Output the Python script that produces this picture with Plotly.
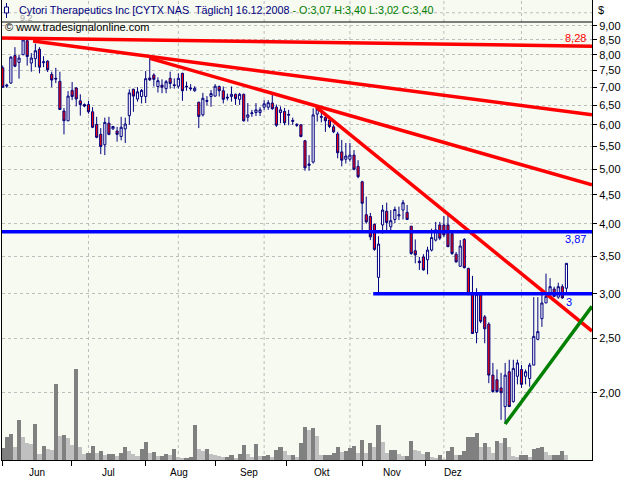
import math
import plotly.graph_objects as go

# ---------------- data ----------------
open_ = [7.58, 7.03, 7.12, 7.97, 7.75, 8.00, 8.47, 7.73, 7.87, 8.18,
         7.74, 7.79, 7.38, 7.26, 7.17, 6.35, 6.10, 6.91, 6.98, 6.62,
         6.52, 6.52, 6.33, 6.01, 5.77, 5.53, 6.04, 5.90, 5.85, 5.72,
         5.90, 6.23, 6.94, 6.67, 6.74, 6.74, 7.27, 7.36, 7.02, 7.06,
         6.96, 7.26, 7.07, 7.03, 7.41, 7.03, 6.98, 6.90, 6.58, 6.25,
         6.63, 6.74, 6.75, 7.02, 6.90, 6.72, 6.74, 6.80, 6.66, 6.80,
         6.19, 6.28, 6.31, 6.31, 6.45, 6.45, 6.56, 6.45, 6.31, 6.34,
         6.24, 6.11, 6.01, 6.00, 5.62, 5.08, 5.15, 6.27, 6.21, 6.18,
         6.12, 5.95, 5.78, 5.37, 5.21, 5.21, 5.30, 5.06, 4.75, 4.15,
         4.12, 3.99, 3.21, 3.98, 4.21, 3.95, 4.07, 4.13, 4.23, 4.19,
         3.96, 3.58, 3.43, 3.49, 3.45, 3.59, 3.74, 3.98, 3.98, 3.98,
         3.84, 3.53, 3.36, 3.75, 3.33, 2.99, 2.56, 2.99, 2.73, 2.65,
         2.15, 2.11, 2.04, 1.89, 2.18, 1.93, 2.14, 2.20, 2.14, 2.12,
         2.24, 2.49, 2.71, 2.89, 3.01, 3.06, 2.96, 3.09, 3.07]
high = [7.65, 7.10, 7.95, 8.25, 8.00, 8.57, 8.52, 8.05, 8.37, 8.25,
        7.95, 7.82, 7.46, 7.58, 7.46, 6.43, 6.89, 7.15, 7.00, 6.80,
        6.55, 6.62, 6.45, 6.20, 5.92, 6.18, 6.20, 5.97, 5.95, 6.20,
        6.18, 6.94, 6.96, 7.00, 6.95, 7.48, 7.89, 7.41, 7.29, 7.23,
        7.21, 7.46, 7.26, 7.41, 7.43, 7.16, 7.09, 7.03, 6.60, 6.84,
        6.75, 6.92, 7.09, 7.05, 7.02, 6.82, 7.02, 6.82, 6.84, 6.82,
        6.56, 6.38, 6.56, 6.45, 6.64, 6.64, 6.84, 6.52, 6.47, 6.43,
        6.38, 6.18, 6.04, 6.02, 5.64, 5.30, 6.42, 6.44, 6.37, 6.25,
        6.19, 6.00, 5.83, 5.64, 5.57, 5.57, 5.41, 5.19, 4.77, 4.47,
        4.18, 4.00, 3.80, 4.32, 4.36, 4.23, 4.29, 4.29, 4.41, 4.32,
        3.96, 3.75, 3.49, 3.53, 3.64, 3.92, 4.03, 4.03, 4.13, 4.17,
        3.87, 3.56, 3.74, 3.77, 3.34, 3.23, 3.07, 3.02, 2.75, 2.67,
        2.26, 2.20, 2.17, 2.26, 2.29, 2.29, 2.29, 2.24, 2.20, 2.26,
        2.96, 2.96, 2.99, 3.26, 3.20, 3.09, 3.14, 3.12, 3.40]
low = [6.98, 6.98, 7.10, 7.60, 7.25, 7.98, 7.65, 7.46, 7.60, 7.41,
       7.60, 7.45, 7.00, 7.12, 6.38, 5.77, 6.09, 6.64, 6.47, 6.23,
       6.45, 6.28, 5.92, 5.68, 5.32, 5.30, 5.75, 5.88, 5.60, 5.63,
       5.57, 6.00, 6.33, 6.60, 6.55, 6.56, 7.18, 7.02, 6.85, 6.83,
       6.83, 6.96, 6.96, 6.96, 6.62, 6.90, 6.90, 6.87, 5.92, 6.21,
       6.50, 6.46, 6.74, 6.74, 6.55, 6.63, 6.60, 6.51, 6.51, 6.08,
       6.08, 6.20, 6.22, 6.22, 6.38, 6.38, 6.38, 5.95, 6.04, 5.99,
       5.99, 6.00, 5.95, 5.70, 4.97, 4.97, 5.12, 6.08, 6.06, 5.83,
       5.92, 5.80, 5.23, 5.06, 5.12, 5.16, 4.98, 4.82, 3.87, 4.00,
       3.74, 3.58, 3.01, 3.84, 3.85, 3.85, 4.01, 4.06, 4.07, 4.06,
       3.52, 3.40, 3.31, 3.30, 3.25, 3.57, 3.72, 3.74, 3.79, 3.64,
       3.52, 3.41, 3.35, 3.33, 2.99, 2.55, 2.45, 2.66, 2.45, 2.08,
       2.00, 2.00, 1.79, 1.76, 1.89, 1.92, 2.07, 2.04, 2.07, 2.05,
       2.24, 2.48, 2.62, 2.89, 2.97, 2.96, 2.94, 2.94, 3.02]
close = [7.00, 7.06, 7.92, 7.63, 7.89, 8.50, 7.94, 7.89, 8.13, 7.60,
         7.77, 7.52, 7.21, 7.24, 6.39, 6.10, 6.75, 6.74, 6.67, 6.52,
         6.48, 6.33, 5.94, 5.70, 5.49, 6.06, 5.77, 5.96, 5.77, 5.94,
         6.02, 6.84, 6.75, 6.87, 6.91, 7.25, 7.22, 7.23, 7.19, 7.00,
         7.16, 7.11, 7.05, 7.26, 6.90, 7.01, 6.96, 6.97, 6.21, 6.69,
         6.61, 6.82, 7.03, 6.90, 6.66, 6.70, 6.80, 6.68, 6.80, 6.10,
         6.25, 6.30, 6.38, 6.38, 6.54, 6.57, 6.41, 5.99, 6.38, 6.05,
         6.26, 6.09, 5.99, 5.72, 5.03, 5.11, 6.25, 6.40, 6.19, 6.10,
         5.96, 5.83, 5.35, 5.19, 5.28, 5.30, 5.00, 4.85, 4.35, 4.03,
         3.79, 3.60, 3.68, 4.23, 4.02, 4.05, 4.24, 4.15, 4.36, 4.07,
         3.54, 3.52, 3.41, 3.31, 3.59, 3.78, 3.90, 3.77, 3.82, 3.64,
         3.54, 3.42, 3.65, 3.34, 2.99, 2.55, 2.99, 2.68, 2.60, 2.15,
         2.01, 2.01, 2.00, 2.15, 1.89, 2.21, 2.26, 2.07, 2.18, 2.24,
         2.52, 2.57, 2.89, 2.97, 3.09, 2.97, 3.09, 2.95, 3.40]
volume = [117, 230, 257, 130, 400, 230, 170, 160, 360, 60,
          140, 110, 103, 760, 240, 250, 220, 150, 910, 130,
          60, 70, 140, 70, 90, 50, 60, 60, 40, 70,
          130, 90, 60, 40, 110, 180, 70, 80, 40, 45,
          60, 50, 110, 30, 20, 25, 30, 350, 110, 90,
          110, 60, 50, 40, 30, 30, 50, 20, 60, 150,
          60, 30, 160, 40, 45, 50, 30, 100, 130, 90,
          50, 50, 30, 170, 330, 300, 320, 240, 50, 50,
          50, 70, 130, 80, 90, 120, 140, 70, 200, 70,
          170, 130, 350, 180, 70, 100, 100, 60, 40, 40,
          190, 100, 90, 60, 80, 30, 20, 50, 10, 90,
          130, 50, 50, 90, 230, 230, 270, 130, 170, 130,
          70, 190, 170, 220, 130, 40, 30, 50, 50, 30,
          110, 120, 130, 80, 50, 50, 50, 90, 50]
day = list(range(len(close)))

price_ticks = [2.0, 2.5, 3.0, 3.5, 4.0, 4.5, 5.0, 5.5, 6.0, 6.5, 7.0, 7.5, 8.0, 8.5, 9.0]
price_tick_labels = ["2,00", "2,50", "3,00", "3,50", "4,00", "4,50", "5,00", "5,50",
                     "6,00", "6,50", "7,00", "7,50", "8,00", "8,50", "9,00"]
extra_grid_price = [9.5]
month_tick_days = [0, 16.9, 35.0, 52.2, 69.4, 88.1, 103.5]
month_label_days = [8.4, 26.0, 43.2, 60.3, 78.2, 95.3, 110.2]
month_labels = ["Jun", "Jul", "Aug", "Sep", "Okt", "Nov", "Dez"]
month_start_days = [21, 43, 64, 85, 108, 127]

x_first, x_last = -0.17, 144.26
p_bottom, p_top = 1.518, 10.01

# trend lines: (start day, start price, end day, end price)
red_trend = [(x_first, 8.57, x_last, 8.28),
             (7.42, 8.46, x_last, 6.25),
             (36.06, 7.88, x_last, 4.69),
             (76.7, 6.46, x_last, 2.576)]
green_trend = (123, 1.76, x_last, 2.85)
blue_levels = [(x_first, 3.87), (90.7, 3.00)]

def de(v, nd=2):
    return f"{v:.{nd}f}".replace(".", ",")

# ---------------- figure ----------------
FONT = "Liberation Sans"
NAVY = "#000080"
fig = go.Figure()

vol_colors = []
for i, v in enumerate(volume):
    vol_colors.append("#808080" if (i == 0 or v >= volume[i - 1]) else "#C0C0C0")

fig.add_trace(go.Bar(x=day, y=volume, width=1.0, marker=dict(color=vol_colors, line=dict(width=0)),
                     yaxis="y2", showlegend=False, hoverinfo="skip"))

fig.add_trace(go.Candlestick(
    x=day, open=open_, high=high, low=low, close=close,
    increasing=dict(line=dict(color=NAVY, width=1), fillcolor="#FFFFFF"),
    decreasing=dict(line=dict(color=NAVY, width=1), fillcolor="#FF0000"),
    whiskerwidth=0, showlegend=False))

shapes = []
for d in month_start_days:
    shapes.append(dict(type="line", xref="x", yref="paper", x0=d, x1=d, y0=0, y1=1,
                       line=dict(color="#BDBDBD", width=1, dash="dot"), layer="below"))
for p in extra_grid_price:
    shapes.append(dict(type="line", xref="paper", yref="y", x0=0, x1=1, y0=p, y1=p,
                       line=dict(color="#BDBDBD", width=1, dash="dot"), layer="below"))
for (x0, y0, x1, y1) in red_trend:
    shapes.append(dict(type="line", xref="x", yref="y", x0=x0, y0=y0, x1=x1, y1=y1,
                       line=dict(color="#FF0000", width=3.5), layer="above"))
gx0, gy0, gx1, gy1 = green_trend
shapes.append(dict(type="line", xref="x", yref="y", x0=gx0, y0=gy0, x1=gx1, y1=gy1,
                   line=dict(color="#008000", width=3.5), layer="above"))
for (x0, lvl) in blue_levels:
    shapes.append(dict(type="line", xref="x", yref="y", x0=x0, y0=lvl, x1=x_last, y1=lvl,
                       line=dict(color="#0000FF", width=3.5), layer="above"))
shapes.append(dict(type="line", xref="paper", yref="paper", x0=0, x1=1, y0=1 - 22 / 460, y1=1 - 22 / 460,
                   line=dict(color="#000000", width=1), layer="above"))
shapes.append(dict(type="line", xref="paper", yref="paper", x0=4.5 / 590, x1=4.5 / 590,
                   y0=1 - 3 / 460, y1=1 - 18 / 460, line=dict(color=NAVY, width=1)))
shapes.append(dict(type="rect", xref="paper", yref="paper", x0=2.5 / 590, x1=6.5 / 590,
                   y0=1 - 7 / 460, y1=1 - 13 / 460, line=dict(color=NAVY, width=1), fillcolor="#FFFFFF"))

ann = []
for pos, lab in zip(month_label_days, month_labels):
    ann.append(dict(x=pos, y=-12 / 460, xref="x", yref="paper", text=lab, showarrow=False,
                    xanchor="center", yanchor="middle", font=dict(family=FONT, size=10, color="#000000")))
# annotation positions on a log axis are given in log10 units
ann.append(dict(x=1, y=math.log10(red_trend[0][3]), xref="paper", yref="y", text=de(red_trend[0][3]),
                showarrow=False, xanchor="right", yanchor="bottom", xshift=-4, yshift=0,
                font=dict(family=FONT, size=11, color="#FF0000")))
ann.append(dict(x=1, y=math.log10(blue_levels[0][1]), xref="paper", yref="y", text=de(blue_levels[0][1]),
                showarrow=False, xanchor="right", yanchor="top", xshift=-4, yshift=1,
                font=dict(family=FONT, size=11, color="#0000FF")))
ann.append(dict(x=137.9, y=math.log10(blue_levels[1][1]), xref="x", yref="y", text=f"{blue_levels[1][1]:g}",
                showarrow=False, xanchor="left", yanchor="top", xshift=-2, yshift=0,
                font=dict(family=FONT, size=11, color="#0000FF")))
name = "Cytori Therapeutics Inc [CYTX NAS\u00a0\u00a0Täglich] 16.12.2008"
ohlc = f" - O:{de(open_[-1])} H:{de(high[-1])} L:{de(low[-1])} C:{de(close[-1])}"
ann.append(dict(x=15 / 590, y=1 - 10 / 460, xref="paper", yref="paper",
                text=f"<span style='color:{NAVY}'>{name}</span><span style='color:#008000'>{ohlc}</span>",
                showarrow=False, xanchor="left", yanchor="middle", font=dict(family=FONT, size=10.75)))
ann.append(dict(x=1 / 590, y=1 - 27 / 460, xref="paper", yref="paper", text="© www.tradesignalonline.com",
                showarrow=False, xanchor="left", yanchor="middle", font=dict(family=FONT, size=11, color="#000000")))
ann.append(dict(x=16 / 590, y=1 - 18 / 460, xref="paper", yref="paper", text="9,2",
                showarrow=False, xanchor="left", yanchor="middle", font=dict(family=FONT, size=9, color="#A8A8A8")))
ann.append(dict(x=1, y=1 - 10 / 460, xref="paper", yref="paper", text="$", showarrow=False,
                xanchor="left", xshift=4, yanchor="middle", font=dict(family=FONT, size=11, color="#000000")))

fig.update_layout(
    width=640, height=480,
    margin=dict(l=2, r=48, t=0, b=20),
    paper_bgcolor="#FFFFFF", plot_bgcolor="#F7FAF0",
    showlegend=False, bargap=0, boxgap=0.25,
    font=dict(family=FONT, size=11, color="#000000"),
    xaxis=dict(range=[x_first, x_last], rangeslider=dict(visible=False), showgrid=False, zeroline=False,
               tickmode="array", tickvals=month_tick_days, ticktext=[""] * len(month_tick_days),
               ticks="outside", ticklen=5, tickcolor="#000000", showline=True, linecolor="#000000",
               linewidth=1, mirror=True),
    yaxis=dict(type="log", range=[math.log10(p_bottom), math.log10(p_top)], side="right",
               tickmode="array", tickvals=price_ticks, ticktext=price_tick_labels,
               ticks="outside", ticklen=4, tickcolor="#000000", showgrid=True, gridcolor="#BDBDBD",
               griddash="dot", gridwidth=1, zeroline=False, showline=True, linecolor="#000000",
               linewidth=1, mirror=True, tickfont=dict(family=FONT, size=11)),
    yaxis2=dict(overlaying="y", range=[0, 4600], visible=False, showgrid=False),
    shapes=shapes, annotations=ann,
)

fig.write_html("out.html", config={"displayModeBar": False},
               post_script="document.body.style.margin='0px';document.body.style.overflow='hidden';")
